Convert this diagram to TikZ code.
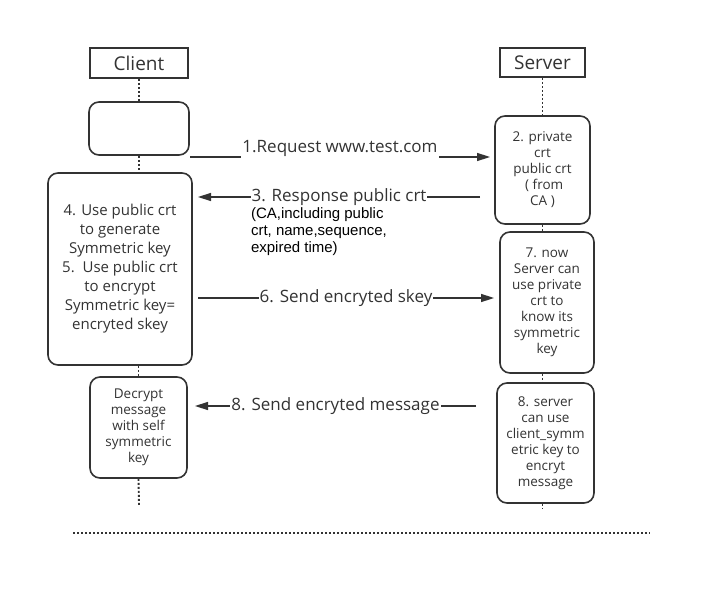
\documentclass[tikz,border=0pt]{standalone}
\usepackage{fontspec}
\setmainfont{Open Sans}
\newfontfamily\notefont{Liberation Sans}
\usetikzlibrary{arrows.meta,positioning}
\definecolor{ink}{HTML}{333333}

\begin{document}
\begin{tikzpicture}[x=1pt,y=-1pt,inner sep=0pt,
  actor/.style={rectangle,draw=ink,line width=1.8pt,text=ink,font=\fontsize{19}{21}\selectfont},
  stepbox/.style={rectangle,rounded corners=10pt,draw=ink,line width=1.6pt,align=center,text=ink,font=\fontsize{13.5}{16}\selectfont},
  life/.style={draw=ink,line width=1.9pt,dash pattern=on 2pt off 2pt},
  msg/.style={draw=ink,line width=1.5pt,-{Triangle[length=13pt,width=8pt]}},
  lbl/.style={fill=white,inner sep=1pt,text=ink,font=\fontsize{17}{20}\selectfont},
  note/.style={align=left,inner sep=0pt,font=\notefont\fontsize{15}{17}\selectfont}]
  \useasboundingbox (0,0) rectangle (711,596);
  % lifeline heads
  \node[actor,minimum width=98pt,minimum height=30pt] (client) at (139,63) {Client};
  \node[actor,minimum width=85pt,minimum height=29pt] (server) at (542.5,62.5) {Server};
  % client side
  \node[stepbox,minimum width=100pt,minimum height=53pt] (empty) at (139,128.5) {};
  \node[stepbox,minimum width=144pt,minimum height=192pt,font=\fontsize{15}{19}\selectfont] (gen) at (120,269)
    {4. Use public crt\\to generate\\Symmetric key\\5.\ \ Use public crt\\to encrypt\\Symmetric key=\\encryted skey};
  \node[stepbox,minimum width=97pt,minimum height=101pt] (decrypt) at (138.5,427.5)
    {Decrypt\\message\\with self\\symmetric\\key};
  % server side
  \node[stepbox,minimum width=95pt,minimum height=108pt] (crt) at (542.5,170)
    {2. private\\crt\\public crt\\\ ( from\\CA )};
  \node[stepbox,minimum width=94pt,minimum height=141pt] (know) at (547,302.5)
    {7. now\\Server can\\use private\\crt to\\know its\\symmetric\\key};
  \node[stepbox,minimum width=97pt,minimum height=120pt] (encmsg) at (545.5,443)
    {8. server\\can use\\client\_symm\\etric key to\\encryt\\message};
  % lifelines
  \coordinate (cend) at (139,505);
  \coordinate (send) at (542.5,508);
  \draw[life] (client) -- (empty);
  \draw[life] (empty.south) -- (empty.south |- gen.north);
  \draw[life] (decrypt.north |- gen.south) -- (decrypt.north);
  \draw[life] (decrypt.south) -- (cend);
  \draw[life] (server) -- (crt);
  \draw[life] (crt.south) -- (crt.south |- know.north);
  \draw[life] (crt.south |- know.south) -- (crt.south |- encmsg.north);
  \draw[life] (crt.south |- encmsg.south) -- (send);
  % messages
  \coordinate (req1) at (190,157);  \coordinate (req2) at (490,157);
  \coordinate (resp1) at (480,197); \coordinate (resp2) at (198,197);
  \coordinate (key1) at (198,298);  \coordinate (key2) at (494,298);
  \coordinate (msg1) at (476,406);  \coordinate (msg2) at (195,406);
  \draw[msg] (req1) -- node[lbl,yshift=9pt,inner ysep=2pt] {1.Request www.test.com} (req2);
  \draw[msg] (resp1) -- node[lbl] (resp) {3. Response public crt} (resp2);
  \node[note,anchor=north west] (cainfo) at ([xshift=1pt]resp.south west)
    {(CA,including public\\crt, name,sequence,\\expired time)};
  \draw[msg] (key1) -- node[lbl] {6. Send encryted skey} (key2);
  \draw[msg] (msg1) -- node[lbl] {8. Send encryted message} (msg2);
  % end of sequence
  \coordinate (endl) at (73,533);
  \coordinate (endr) at (650,533);
  \draw[draw=ink,line width=1.3pt,dash pattern=on 1.5pt off 2.5pt] (endl) -- (endr);
\end{tikzpicture}
\end{document}
